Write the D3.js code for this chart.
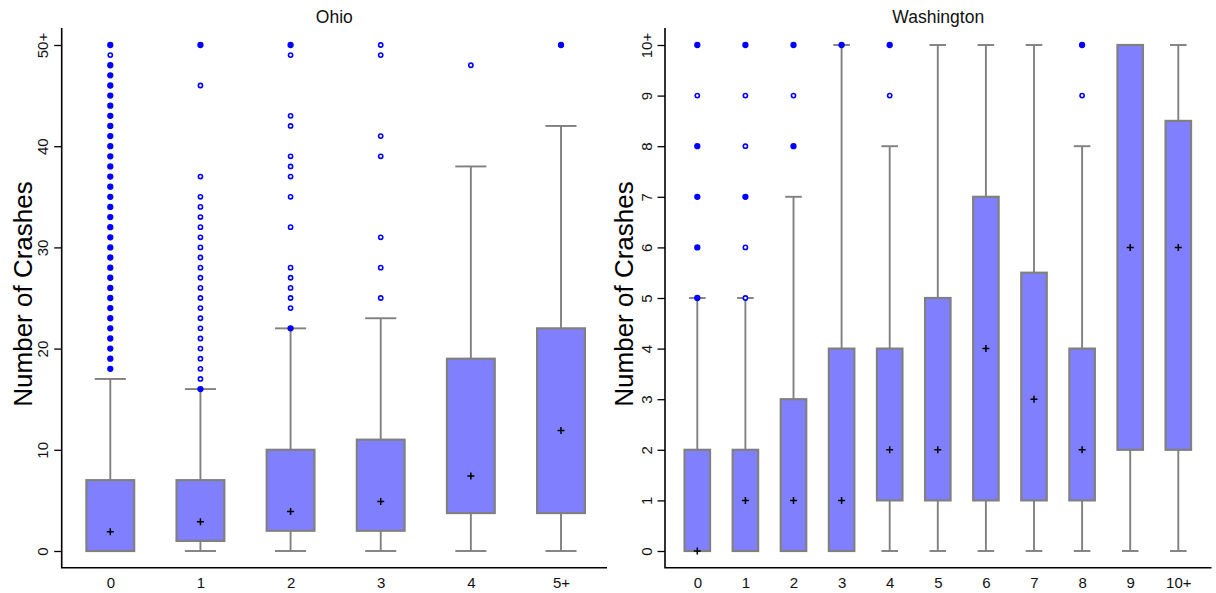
<!DOCTYPE html>
<html>
<head>
<meta charset="utf-8">
<script src="https://cdn.jsdelivr.net/npm/d3@7/dist/d3.min.js"></script>
<style>
  html, body { margin: 0; padding: 0; background: #fff; }
  svg { display: block; font-family: "Liberation Sans", Arial, sans-serif; }
</style>
</head>
<body>
<svg id="chart" width="1216" height="593"></svg>
<script>
// ---- Ohio: crash counts by category ----
const ohioCats = ["0", "1", "2", "3", "4", "5+"];
const ohioQ1 = [0, 1, 2, 2, 3.75, 3.75];
const ohioQ3 = [7, 7, 10, 11, 19, 22];
const ohioMean = [1.9, 2.9, 3.9, 4.9, 7.4, 11.9];
const ohioLow = [0, 0, 0, 0, 0, 0];
const ohioHigh = [17, 16, 22, 23, 38, 42];
const ohioOutliers = [
  [18, 19, 20, 21, 22, 23, 24, 25, 26, 27, 28, 29, 30, 31, 32, 33, 34, 35, 36, 37, 38, 39, 40, 41, 42, 43, 44, 45, 46, 47, 48, 49, 50],
  [16, 17, 18, 19, 20, 21, 22, 23, 24, 25, 26, 27, 28, 29, 30, 31, 32, 33, 34, 35, 37, 46, 50],
  [22, 24, 25, 26, 27, 28, 32, 35, 37, 38, 39, 42, 43, 49, 50],
  [25, 28, 31, 39, 41, 49, 50],
  [48],
  [50]
];
// outlier values with many stacked observations (drawn solid)
const ohioDense = [
  [18, 19, 20, 21, 22, 23, 24, 25, 26, 27, 28, 29, 30, 31, 32, 33, 34, 35, 36, 37, 38, 39, 40, 41, 42, 43, 44, 45, 46, 47, 48, 50],
  [16, 50],
  [22, 50],
  [],
  [],
  [50]
];
const ohioTicks = [0, 10, 20, 30, 40, 50];
const ohioTickLabels = ["0", "10", "20", "30", "40", "50+"];

// ---- Washington: crash counts by category ----
const waCats = ["0", "1", "2", "3", "4", "5", "6", "7", "8", "9", "10+"];
const waQ1 = [0, 0, 0, 0, 1, 1, 1, 1, 1, 2, 2];
const waQ3 = [2, 2, 3, 4, 4, 5, 7, 5.5, 4, 10, 8.5];
const waMean = [0, 1, 1, 1, 2, 2, 4, 3, 2, 6, 6];
const waLow = [0, 0, 0, 0, 0, 0, 0, 0, 0, 0, 0];
const waHigh = [5, 5, 7, 10, 8, 10, 10, 10, 8, 10, 10];
const waOutliers = [
  [5, 6, 7, 8, 9, 10],
  [5, 6, 7, 8, 9, 10],
  [8, 9, 10],
  [10],
  [9, 10],
  [], [], [],
  [9, 10],
  [], []
];
const waDense = [
  [5, 6, 7, 8, 10],
  [7, 10],
  [8, 10],
  [10],
  [10],
  [], [], [],
  [10],
  [], []
];
const waTicks = [0, 1, 2, 3, 4, 5, 6, 7, 8, 9, 10];
const waTickLabels = ["0", "1", "2", "3", "4", "5", "6", "7", "8", "9", "10+"];

const BOX_FILL = "#8080ff";
const BOX_STROKE = "#808080";
const OUT_COLOR = "#0000ff";

const svg = d3.select("#chart");

function panel(opts) {
  const { title, cats, q1, q3, mean, low, high, outliers, dense,
          ticks, tickLabels, yMax, left, right, firstX, lastX, titleX } = opts;
  const top = 28, bottom = 567.7;
  const g = svg.append("g");

  const x = d3.scalePoint().domain(cats).range([firstX, lastX]);
  const y = d3.scaleLinear().domain([0, yMax]).range([551, 45]);
  const step = x.step();
  const boxW = step * 0.53;
  const capW = step * 0.345;

  // panel title
  g.append("text")
    .attr("x", (left + right) / 2).attr("y", 22.5)
    .attr("text-anchor", "middle")
    .attr("font-size", 17.5).attr("fill", "#111")
    .text(title);

  // axis title
  g.append("text")
    .attr("transform", `translate(${titleX},${294}) rotate(-90)`)
    .attr("text-anchor", "middle")
    .attr("font-size", 26).attr("fill", "#000")
    .text("Number of Crashes");

  // y axis
  const yAxis = g.append("g")
    .attr("transform", `translate(${left},0)`)
    .call(d3.axisLeft(y).tickValues(ticks)
      .tickFormat((d, i) => tickLabels[i]).tickSize(7.5));
  yAxis.select(".domain").remove();
  yAxis.selectAll(".tick line").attr("stroke", "#000").attr("stroke-width", 1.3);
  yAxis.selectAll(".tick text")
    .attr("transform", "rotate(-90)")
    .attr("x", 0).attr("y", -13.5).attr("dy", 0)
    .attr("text-anchor", "middle")
    .attr("font-size", 15).attr("fill", "#111")
    .attr("font-family", "Liberation Sans, Arial, sans-serif");

  // x axis labels
  const xAxis = g.append("g")
    .attr("transform", `translate(0,${bottom})`)
    .call(d3.axisBottom(x).tickSize(0).tickPadding(9.5));
  xAxis.select(".domain").remove();
  xAxis.selectAll(".tick text")
    .attr("font-size", 15).attr("fill", "#111")
    .attr("font-family", "Liberation Sans, Arial, sans-serif");

  // axis lines (L shape)
  g.append("path")
    .attr("d", `M${left},${top}V${bottom}H${right}`)
    .attr("fill", "none").attr("stroke", "#000").attr("stroke-width", 1.6);

  const data = cats.map((c, i) => ({
    c, q1: q1[i], q3: q3[i], mean: mean[i], low: low[i], high: high[i],
    out: outliers[i], dense: dense[i]
  }));

  const items = g.selectAll("g.item").data(data).join("g").attr("class", "item");

  // whiskers
  items.each(function (d) {
    const gi = d3.select(this);
    const cx = x(d.c);
    if (d.high > d.q3) {
      gi.append("line").attr("x1", cx).attr("x2", cx)
        .attr("y1", y(d.q3)).attr("y2", y(d.high));
      gi.append("line").attr("x1", cx - capW / 2).attr("x2", cx + capW / 2)
        .attr("y1", y(d.high)).attr("y2", y(d.high));
    }
    if (d.low < d.q1) {
      gi.append("line").attr("x1", cx).attr("x2", cx)
        .attr("y1", y(d.q1)).attr("y2", y(d.low));
      gi.append("line").attr("x1", cx - capW / 2).attr("x2", cx + capW / 2)
        .attr("y1", y(d.low)).attr("y2", y(d.low));
    }
    gi.selectAll("line").attr("stroke", BOX_STROKE).attr("stroke-width", 1.9);
  });

  // boxes
  items.append("rect")
    .attr("x", d => x(d.c) - boxW / 2)
    .attr("width", boxW)
    .attr("y", d => y(d.q3))
    .attr("height", d => y(d.q1) - y(d.q3))
    .attr("fill", BOX_FILL)
    .attr("stroke", BOX_STROKE)
    .attr("stroke-width", 2.2);

  // mean markers
  items.append("path")
    .attr("d", d => {
      const cx = x(d.c), cy = y(d.mean), s = 3.5;
      return `M${cx - s},${cy}H${cx + s}M${cx},${cy - s}V${cy + s}`;
    })
    .attr("stroke", "#000").attr("stroke-width", 1.5).attr("fill", "none");

  // outliers
  items.each(function (d) {
    const gi = d3.select(this);
    gi.selectAll("circle").data(d.out).join("circle")
      .attr("cx", x(d.c))
      .attr("cy", v => y(v))
      .attr("r", v => d.dense.includes(v) ? 2.5 : 2.1)
      .attr("fill", v => d.dense.includes(v) ? OUT_COLOR : "#fff")
      .attr("stroke", OUT_COLOR)
      .attr("stroke-width", v => d.dense.includes(v) ? 1.3 : 1.6);
  });
}

panel({
  title: "Ohio", cats: ohioCats, q1: ohioQ1, q3: ohioQ3, mean: ohioMean,
  low: ohioLow, high: ohioHigh, outliers: ohioOutliers, dense: ohioDense,
  ticks: ohioTicks, tickLabels: ohioTickLabels, yMax: 50,
  left: 61.7, right: 607, firstX: 110.3, lastX: 561, titleX: 31.5
});

panel({
  title: "Washington", cats: waCats, q1: waQ1, q3: waQ3, mean: waMean,
  low: waLow, high: waHigh, outliers: waOutliers, dense: waDense,
  ticks: waTicks, tickLabels: waTickLabels, yMax: 10,
  left: 665, right: 1211.5, firstX: 697.3, lastX: 1178.3, titleX: 633
});
</script>
</body>
</html>
